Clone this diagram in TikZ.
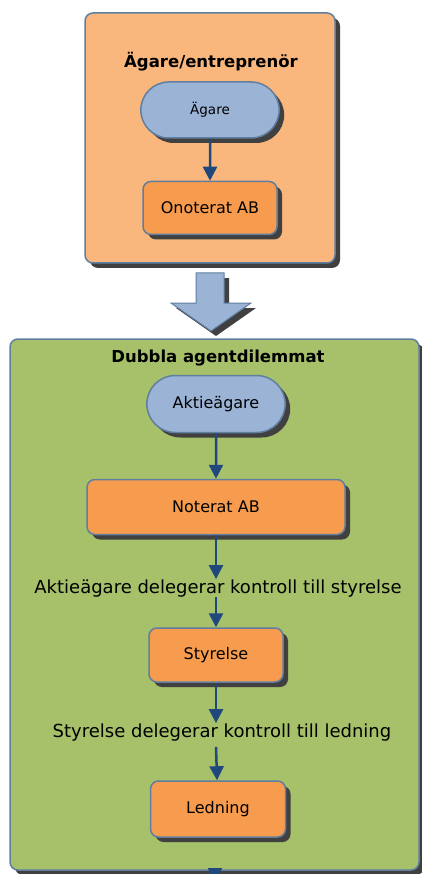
\documentclass[tikz,border=0pt]{standalone}
\usepackage{fontspec}
\setmainfont{DejaVu Sans}
\usepackage{xcolor}
\usetikzlibrary{arrows.meta}
\usetikzlibrary{shapes.misc, shadows}
\usetikzlibrary{positioning}
\definecolor{ownerorange}{RGB}{249,183,125}
\definecolor{boxorange}{RGB}{247,156,78}
\definecolor{pillblue}{RGB}{155,179,213}
\definecolor{agentgreen}{RGB}{166,193,106}
\definecolor{edgeblue}{RGB}{96,126,160}
\definecolor{flowblue}{RGB}{31,73,125}
\definecolor{shadowgray}{RGB}{64,64,64}

\tikzset{
  castshadow/.style={drop shadow={shadow xshift=5pt, shadow yshift=-5pt, fill=shadowgray, opacity=1}},
  panel/.style={fill=#1, draw=edgeblue, line width=1.5pt, rounded corners=8pt, castshadow},
  pill/.style={rounded rectangle, fill=pillblue, draw=edgeblue, line width=1.5pt, castshadow,
    minimum width=145pt, minimum height=56pt, font=\fontsize{16}{18}\selectfont},
  orangebox/.style={rectangle, rounded corners=8pt, fill=boxorange, draw=edgeblue, line width=1.5pt, castshadow,
    minimum width=134pt, minimum height=54pt, font=\fontsize{16}{18}\selectfont},
  flow/.style={-{Triangle[length=14pt,width=14pt]}, draw=flowblue, line width=2.5pt},
  steplabel/.style={inner sep=0pt, anchor=base, font=\fontsize{18}{20}\selectfont},
  heading/.style={font=\bfseries\fontsize{16.5}{19}\selectfont}
}

\begin{document}
\begin{tikzpicture}[x=1pt, y=-1pt]%
  \useasboundingbox (0,0) rectangle (422,874);
  % owner / entrepreneur
  \draw[panel=ownerorange] (85,13) rectangle (335,263);
  \node[heading] (ownertitle) at (211,62) {Ägare/entreprenör};
  \node[pill, font=\fontsize{13.5}{16}\selectfont] (owner) at (210,110) {Ägare};
  \node[orangebox, minimum height=53pt] (unlisted) at (210,208) {Onoterat AB};
  \draw[flow] (owner) -- (unlisted);

  % big transition arrow
  \filldraw[fill=pillblue, draw=edgeblue, line width=1pt, castshadow]
    (196,273) -- (224,273) -- (224,303) -- (251,303) -- (211,331) -- (171,303) -- (196,303) -- cycle;

  % double agent problem
  \draw[panel=agentgreen] (10,339) rectangle (419,870);
  \node[heading] (agenttitle) at (218,358) {Dubbla agentdilemmat};
  \node[pill, minimum height=57pt] (shareholders) at (216,404) {Aktieägare};
  \node[orangebox, minimum width=258pt, minimum height=55pt] (listed) at (216,507) {Noterat AB};
  \node[steplabel] (toboard) at (218,593) {Aktieägare delegerar kontroll till styrelse};
  \node[orangebox] (board) at (216,655) {Styrelse};
  \node[steplabel] (tomgmt) at (222,737) {Styrelse delegerar kontroll till ledning};
  \node[orangebox, minimum width=135pt, minimum height=56pt] (mgmt) at (218,809) {Ledning};
  \coordinate (more) at (215,868);
  \coordinate (moreend) at (215,882);

  \draw[flow] (shareholders) -- (listed);
  \draw[flow] (listed) -- (listed |- toboard.north);
  \draw[flow] (listed |- toboard.south) -- (board);
  \draw[flow] (board) -- (board |- tomgmt.north);
  \draw[flow] ([yshift=-6pt]board |- tomgmt.south) -- (mgmt);
  \draw[flow] (more) -- (moreend);
\end{tikzpicture}
\end{document}
